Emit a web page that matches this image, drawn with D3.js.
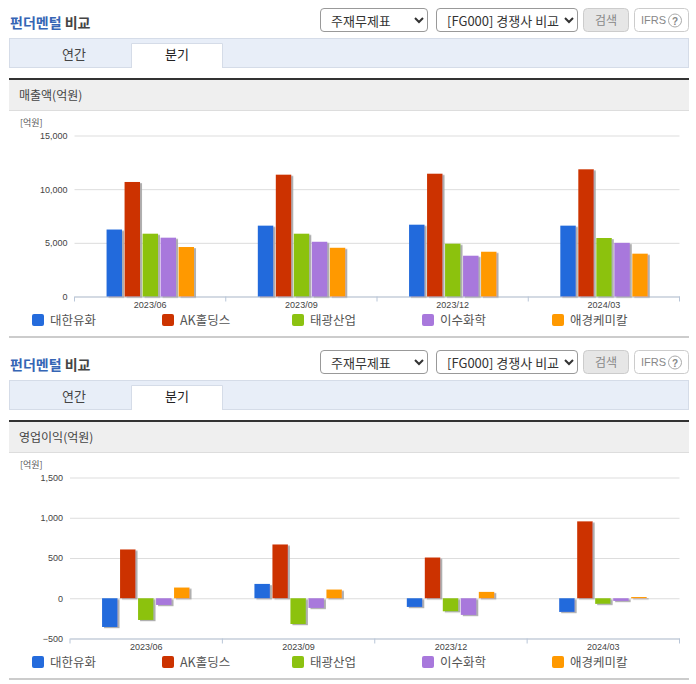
<!DOCTYPE html>
<html>
<head>
<meta charset="utf-8">
<script src="https://cdn.jsdelivr.net/npm/d3@7"></script>
<style>
html, body { margin: 0; padding: 0; background: #fff; overflow: hidden; }
#page { position: relative; width: 696px; height: 684px; }
svg { position: absolute; left: 0; top: 0; font-family: "Noto Sans CJK KR", sans-serif; }
select {
    position: absolute; height: 24px; padding: 0 0 0 6px; background: #fff;
    border: 1px solid #999; border-radius: 4px; color: #333; box-sizing: border-box;
    font: 13px "Noto Sans CJK KR", sans-serif;
}
.tick text { font-family: "Liberation Sans", sans-serif; font-size: 9px; fill: #444; }
</style>
</head>
<body>
<div id="page"></div>
<script>
const quarters = ["2023/06", "2023/09", "2023/12", "2024/03"]
const companies = ["대한유화", "AK홀딩스", "태광산업", "이수화학", "애경케미칼"]
const colors = ["#246bdc", "#cc3300", "#8cc211", "#a878dc", "#ff9900"]

// 억원, one list per company, same order as quarters
const salesDaehan = [6240, 6600, 6690, 6600]
const salesAk = [10670, 11350, 11440, 11850]
const salesTaekwang = [5850, 5850, 4920, 5450]
const salesIsu = [5480, 5100, 3800, 5000]
const salesAekyung = [4610, 4540, 4170, 3990]

const profitDaehan = [-357, 178, -108, -170]
const profitAk = [606, 668, 506, 955]
const profitTaekwang = [-270, -320, -162, -70]
const profitIsu = [-83, -120, -207, -33]
const profitAekyung = [133, 108, 79, 15]

const salesTicks = [0, 5000, 10000, 15000]
const profitTicks = [-500, 0, 500, 1000, 1500]

const W = 696, H = 684
const page = d3.select("#page")
const svg = page.append("svg").attr("width", W).attr("height", H)

// soft shadow the original bars have
const shadow = svg.append("defs").append("filter").attr("id", "barShadow")
    .attr("x", "-30%").attr("y", "-30%").attr("width", "160%").attr("height", "160%")
shadow.append("feDropShadow").attr("dx", 2).attr("dy", 1.2)
    .attr("stdDeviation", 0.6).attr("flood-color", "#aaa").attr("flood-opacity", 0.95)

function drawHeader(top, metric) {
    const g = svg.append("g").attr("transform", `translate(0,${top})`)

    const title = g.append("text").attr("x", 10).attr("y", 28)
        .attr("font-size", 14).attr("font-weight", 700)
    title.append("tspan").attr("fill", "#3565b5").text("펀더멘털")
    title.append("tspan").attr("fill", "#444").text(" 비교")

    page.append("select").style("left", "320px").style("top", (top + 8) + "px").style("width", "108px")
        .append("option").text("주재무제표")
    page.append("select").style("left", "436px").style("top", (top + 8) + "px").style("width", "142px")
        .append("option").text("[FG000] 경쟁사 비교")

    // search + IFRS buttons
    g.append("rect").attr("x", 583.5).attr("y", 8.5).attr("width", 45).attr("height", 23).attr("rx", 4)
        .attr("fill", "#e6e6e6").attr("stroke", "#ccc")
    g.append("text").attr("x", 606).attr("y", 24.5).attr("text-anchor", "middle")
        .attr("font-size", 12).attr("fill", "#888").text("검색")
    g.append("rect").attr("x", 634.5).attr("y", 8.5).attr("width", 54).attr("height", 23).attr("rx", 4)
        .attr("fill", "#fff").attr("stroke", "#ccc")
    g.append("text").attr("x", 641).attr("y", 24).attr("font-family", "Liberation Sans")
        .attr("font-size", 11).attr("fill", "#888").text("IFRS")
    g.append("circle").attr("cx", 675).attr("cy", 20.5).attr("r", 6.5)
        .attr("fill", "#fff").attr("stroke", "#aaa")
    g.append("text").attr("x", 675).attr("y", 24.5).attr("text-anchor", "middle")
        .attr("font-family", "Liberation Sans").attr("font-size", 10).attr("font-weight", 700)
        .attr("fill", "#888").text("?")

    // tabs
    g.append("rect").attr("x", 9.5).attr("y", 38.5).attr("width", 679).attr("height", 29)
        .attr("fill", "#e8eef8").attr("stroke", "#d5dce8")
    g.append("path").attr("d", "M131.5,68V43.5H222.5V68").attr("fill", "#fff").attr("stroke", "#d5dce8")
    g.append("text").attr("x", 74).attr("y", 58.5).attr("text-anchor", "middle")
        .attr("font-size", 13).attr("fill", "#444").text("연간")
    g.append("text").attr("x", 177).attr("y", 58.5).attr("text-anchor", "middle")
        .attr("font-size", 13).attr("fill", "#222").text("분기")

    // metric title band
    g.append("rect").attr("x", 9).attr("y", 78).attr("width", 680).attr("height", 32).attr("fill", "#efefef")
    g.append("rect").attr("x", 9).attr("y", 78).attr("width", 680).attr("height", 2).attr("fill", "#333")
    g.append("rect").attr("x", 9).attr("y", 110).attr("width", 680).attr("height", 1).attr("fill", "#ddd")
    g.append("text").attr("x", 19).attr("y", 99.5).attr("font-size", 12).attr("fill", "#444").text(metric)
    g.append("text").attr("x", 20).attr("y", 126).attr("font-size", 9).attr("fill", "#555").text("[억원]")

    // legend
    const items = g.selectAll(".legend").data(companies).enter().append("g")
        .attr("transform", (d, i) => `translate(${32 + i * 130},314)`)
    items.append("rect").attr("width", 12).attr("height", 12).attr("rx", 2)
        .attr("fill", (d, i) => colors[i])
    items.append("text").attr("x", 18).attr("y", 11).attr("font-size", 12.5).attr("fill", "#555").text(d => d)

    g.append("rect").attr("x", 9).attr("y", 336).attr("width", 680).attr("height", 2).attr("fill", "#ccc")
}

function drawChart(series, ticks, yRange, left) {
    const x = d3.scaleBand().domain(quarters).range([left, 679.5])
    const x1 = d3.scaleBand().domain(companies)
        .range([30.8, 120.8]).paddingInner(0.14).paddingOuter(0.07)
    const y = d3.scaleLinear().domain(d3.extent(ticks)).range(yRange)
    const base = d3.min(ticks)

    const yAxis = svg.append("g").attr("transform", `translate(${left},0)`)
        .call(d3.axisLeft(y).tickValues(ticks).tickSize(-(679.5 - left)).tickPadding(7).tickFormat(d3.format(",")))
    yAxis.select(".domain").remove()
    yAxis.selectAll("line").attr("stroke", "#ddd")

    const xAxis = svg.append("g").attr("transform", `translate(0,${y(base)})`)
        .call(d3.axisBottom(x).tickSize(0).tickPadding(5))
    xAxis.select(".domain").attr("stroke", "#b9c6d8")
    xAxis.selectAll(".edge").data(d3.range(quarters.length + 1)).enter().append("line")
        .attr("x1", i => left + i * x.step()).attr("x2", i => left + i * x.step())
        .attr("y1", 0).attr("y2", 5).attr("stroke", "#b9c6d8")

    series.forEach((values, s) => {
        const name = companies[s]
        svg.append("g").attr("filter", "url(#barShadow)")
            .selectAll("rect").data(values).enter().append("rect")
            .attr("x", (d, i) => x(quarters[i]) + x1(name))
            .attr("y", d => Math.min(y(d), y(0)))
            .attr("width", x1.bandwidth())
            .attr("height", d => Math.abs(y(d) - y(0)))
            .attr("fill", colors[s])
    })
}

drawHeader(0, "매출액(억원)")
drawChart([salesDaehan, salesAk, salesTaekwang, salesIsu, salesAekyung], salesTicks, [296.5, 135.5], 74.5)

drawHeader(342, "영업이익(억원)")
drawChart([profitDaehan, profitAk, profitTaekwang, profitIsu, profitAekyung], profitTicks, [638.5, 477.5], 70)
</script>
</body>
</html>
